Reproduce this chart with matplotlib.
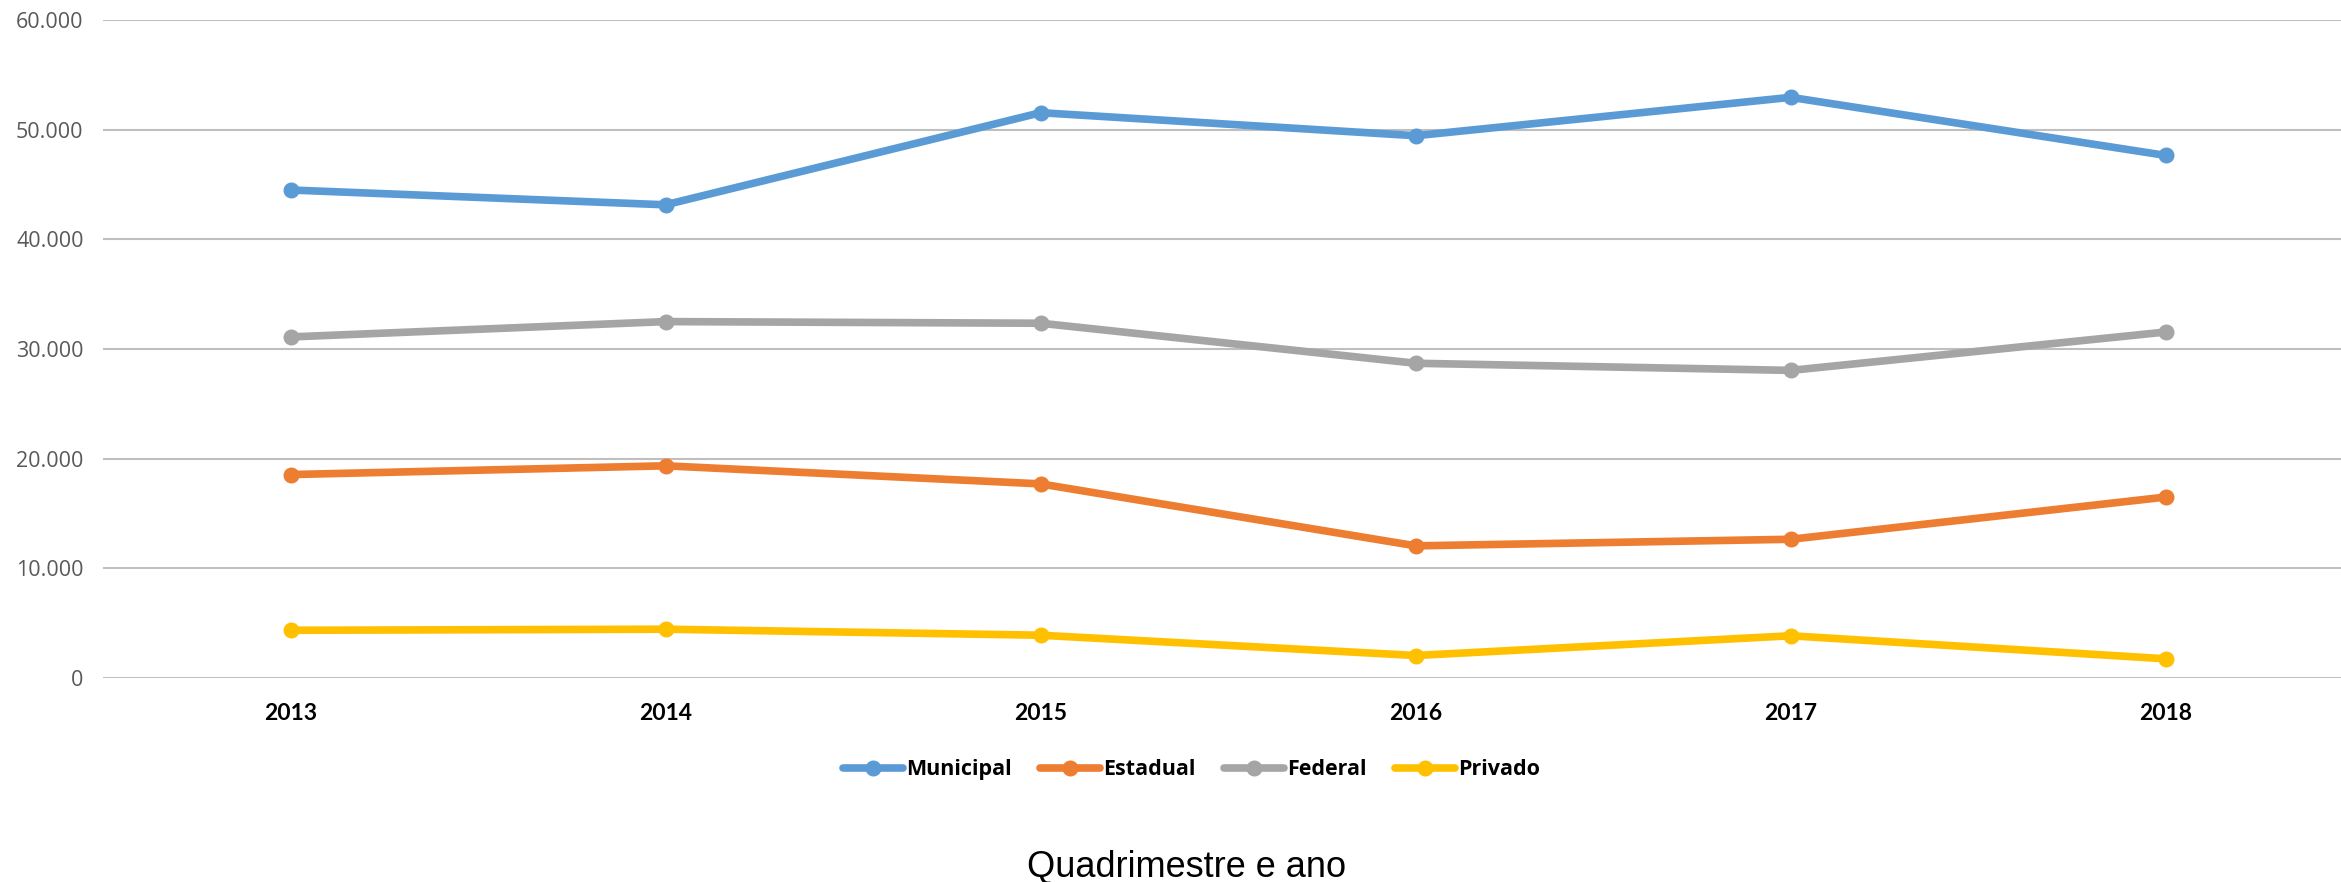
import matplotlib
matplotlib.use("Agg")
import matplotlib.pyplot as plt
from matplotlib.ticker import FuncFormatter

# values
years = ["2013", "2014", "2015", "2016", "2017", "2018"]
municipal = [44500, 43150, 51550, 49450, 52950, 47650]
estadual = [18550, 19350, 17700, 12050, 12650, 16500]
federal = [31100, 32500, 32350, 28700, 28050, 31550]
privado = [4350, 4450, 3900, 2050, 3850, 1750]

series = [("Municipal", municipal, "#5B9BD5"),
          ("Estadual", estadual, "#ED7D31"),
          ("Federal", federal, "#A5A5A5"),
          ("Privado", privado, "#FFC000")]

fig = plt.figure(figsize=(23.41, 8.82), dpi=100)
ax = fig.add_axes([0.044, 0.2313, 0.956, 0.746])

x = range(len(years))
for name, vals, col in series:
    ax.plot(x, vals, color=col, lw=5.5, marker="o", ms=10.5,
            solid_capstyle="round", label=name, zorder=3)

ax.set_xlim(-0.5, 5.467)
ax.set_ylim(0, 60000)
ax.set_yticks(range(0, 60001, 10000))
ax.yaxis.set_major_formatter(FuncFormatter(lambda v, p: f"{int(v):,}".replace(",", ".")))
ax.set_xticks(list(x))
ax.set_xticklabels(years)

ax.grid(axis="y", color="#BFBFBF", lw=1.5, zorder=0)
for s in ax.spines.values():
    s.set_visible(False)
ax.tick_params(axis="both", length=0)
ax.tick_params(axis="y", pad=14, labelsize=15.5, labelcolor="#595959")
ax.tick_params(axis="x", pad=18)
for lab in ax.get_yticklabels():
    lab.set_family("Open Sans")
for lab in ax.get_xticklabels():
    lab.set_family("Lato")
    lab.set_fontweight("bold")
    lab.set_fontsize(16.5)

leg = fig.legend(loc="center", bbox_to_anchor=(0.509, 0.127), ncol=4,
                 frameon=False, handlelength=2.8, handletextpad=0.15,
                 columnspacing=1.3, prop={"family": "Open Sans", "weight": "bold", "size": 15.5})

fig.text(0.507, 0.017, "Quadrimestre e ano", ha="center", va="center",
         family="Liberation Sans", fontsize=26)

fig.savefig("out.png", dpi=100)
